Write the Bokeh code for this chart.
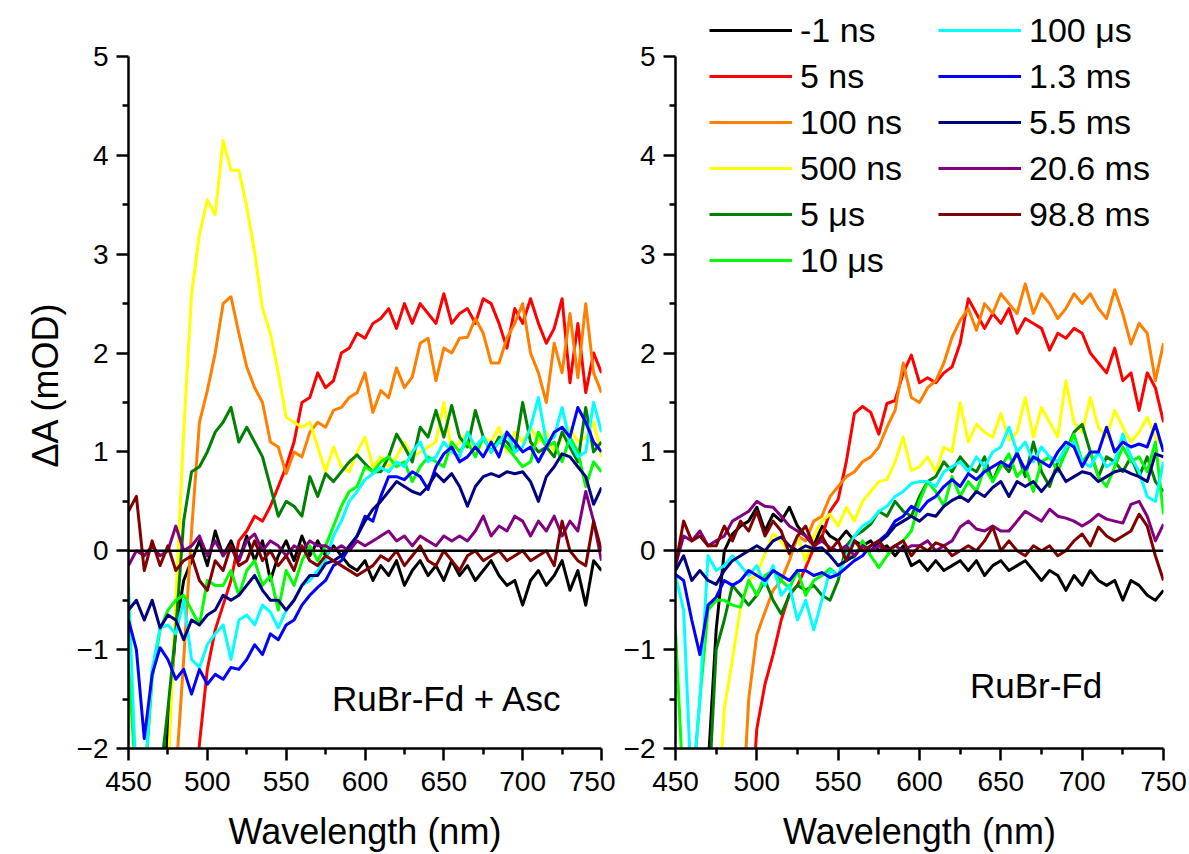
from bokeh.plotting import figure
from bokeh.models import Label, Legend, LegendItem, Span, FixedTicker, Title
from bokeh.layouts import row
from bokeh.embed import file_html
from bokeh.resources import INLINE

FONT = "Liberation Sans"

# ---------------- data ----------------
wavelength = list(range(450, 751, 5))

series_labels = ["-1 ns", "5 ns", "100 ns", "500 ns", "5 \u03bcs", "10 \u03bcs",
                 "100 \u03bcs", "1.3 ms", "5.5 ms", "20.6 ms", "98.8 ms"]
series_colors = ["#000000", "#FF0000", "#FF8000", "#FFFF00", "#008000", "#00FF00",
                 "#00FFFF", "#0000FF", "#000080", "#800080", "#800000"]

# Left panel: RuBr-Fd + Asc
asc_m1ns = [-3, -3, -3, -3, -3, -1.8, -0.8, -0.3, -0.1, 0.1, -0.15, 0.2, -0.05, 0.1, -0.1, 0.15, -0.1, 0.1, -0.3, -0.05,
            0.1, -0.1, 0.15, -0.05, 0.1, -0.05, 0.05, -0.05, -0.15, -0.2, -0.1, -0.3, -0.15, -0.25, -0.1, -0.35, -0.2, -0.1, -0.25, -0.15,
            -0.3, -0.1, -0.25, -0.15, -0.3, -0.2, -0.1, -0.25, -0.35, -0.3, -0.55, -0.3, -0.2, -0.35, -0.25, -0.1, -0.4, -0.2, -0.55, -0.1, -0.2]
asc_5ns = [-3, -3, -3, -3, -3, -3, -3, -3, -3, -1.95, -1.2, -0.8, -0.55, -0.3, 0.1, 0.2, 0.35, 0.3, 0.45, 0.65,
           0.85, 1.1, 1.5, 1.55, 1.8, 1.65, 1.72, 2.0, 2.05, 2.2, 2.15, 2.3, 2.35, 2.45, 2.25, 2.5, 2.3, 2.5, 2.4, 2.3,
           2.6, 2.3, 2.4, 2.45, 2.3, 2.55, 2.5, 2.3, 2.05, 2.45, 2.3, 2.55, 2.3, 2.1, 2.25, 2.55, 1.7, 2.3, 1.6, 2.0, 1.8]
asc_100ns = [-3, -3, -3, -3, -3, -3, -2.3, -1.1, 0.2, 1.3, 1.62, 2.0, 2.5, 2.57, 2.2, 1.86, 1.65, 1.5, 1.1, 1.05,
             0.78, 1.0, 0.95, 1.2, 1.3, 1.25, 1.42, 1.45, 1.55, 1.6, 1.8, 1.4, 1.62, 1.55, 1.85, 1.65, 1.76, 2.1, 2.15, 1.72,
             2.05, 2.0, 2.15, 2.16, 2.35, 2.2, 1.9, 1.9, 2.15, 2.3, 2.5, 2.0, 1.8, 1.5, 2.1, 1.8, 2.4, 1.75, 2.5, 1.8, 1.6]
asc_500ns = [-3, -3, -3, -3, -3, -2.3, -0.5, 1.2, 2.6, 3.2, 3.55, 3.4, 4.15, 3.85, 3.85, 3.48, 3.02, 2.45, 2.2, 1.8,
             1.35, 1.3, 1.25, 1.3, 1.05, 0.8, 1.05, 0.85, 0.8, 1.0, 1.15, 0.85, 0.95, 0.85, 0.95, 1.1, 0.95, 1.0, 1.05, 1.1,
             1.5, 1.0, 1.1, 1.2, 1.0, 1.15, 1.1, 1.25, 1.0, 1.2, 1.1, 1.25, 1.1, 1.2, 1.0, 1.15, 1.25, 1.1, 1.15, 1.3, 0.95]
asc_5us = [-3, -3, -3, -3, -2.3, -1.6, -0.8, 0.3, 0.8, 0.85, 1.0, 1.2, 1.3, 1.45, 1.1, 1.25, 1.1, 0.95, 0.65, 0.35,
           0.5, 0.45, 0.35, 0.75, 0.55, 0.78, 0.7, 0.8, 0.9, 0.97, 0.88, 0.8, 0.8, 0.95, 1.18, 1.05, 0.9, 1.25, 1.15, 1.42,
           1.15, 1.47, 1.15, 1.05, 1.42, 1.15, 1.0, 1.15, 1.1, 1.0, 1.5, 1.1, 1.0, 1.05, 0.95, 1.2, 1.05, 0.9, 1.45, 1.0, 1.1]
asc_10us = [-1.15, -2.4, -2.4, -1.3, -0.8, -0.6, -0.5, -0.45, -0.6, -0.75, -0.3, -0.35, -0.35, -0.2, -0.45, -0.2, -0.1, -0.35, -0.25, -0.6,
            -0.2, -0.35, -0.1, 0.05, -0.1, 0.05, 0.25, 0.45, 0.6, 0.65, 0.85, 0.8, 0.9, 0.95, 0.85, 0.9, 0.7, 0.85, 0.95, 0.9,
            0.85, 1.1, 1.0, 1.1, 0.95, 1.15, 1.0, 1.1, 1.05, 0.95, 0.85, 0.9, 1.2, 1.05, 1.1, 0.9, 1.15, 1.0, 0.65, 0.9, 0.8]
asc_100us = [-0.35, -2.4, -2.4, -1.2, -0.78, -0.75, -0.84, -0.5, -1.1, -1.18, -0.95, -0.84, -0.75, -1.1, -0.7, -0.65, -0.75, -0.55, -0.62, -0.78,
             -0.6, -0.5, -0.35, -0.3, -0.2, -0.1, 0.15, 0.3, 0.5, 0.6, 0.72, 0.78, 0.84, 0.8, 0.9, 0.85, 1.0, 1.1, 0.9, 0.95,
             1.1, 1.0, 0.95, 1.2, 1.05, 1.15, 1.0, 1.1, 1.2, 1.0, 1.05, 1.25, 1.55, 1.1, 1.15, 1.45, 1.1, 0.95, 1.0, 1.5, 1.2]
asc_1p3ms = [-0.7, -1.0, -1.9, -1.25, -0.98, -1.1, -1.3, -1.2, -1.45, -1.2, -1.35, -1.25, -1.3, -1.18, -1.2, -1.1, -0.95, -1.05, -0.84, -0.9,
             -0.75, -0.7, -0.55, -0.45, -0.37, -0.3, -0.15, -0.1, 0.03, 0.15, 0.35, 0.3, 0.55, 0.75, 0.75, 0.72, 0.8, 0.75, 0.62, 0.85,
             0.98, 1.05, 0.9, 0.95, 1.05, 0.95, 1.1, 0.95, 1.2, 1.1, 1.0, 1.05, 0.9, 1.05, 1.2, 1.25, 1.15, 1.45, 1.3, 1.1, 1.0]
asc_5p5ms = [-0.6, -0.5, -0.7, -0.5, -0.78, -0.65, -0.7, -0.9, -0.7, -0.75, -0.65, -0.6, -0.45, -0.5, -0.45, -0.35, -0.25, -0.4, -0.5, -0.5,
             -0.6, -0.5, -0.35, -0.25, -0.25, -0.13, -0.1, -0.05, 0.05, 0.15, 0.3, 0.42, 0.5, 0.6, 0.7, 0.65, 0.6, 0.57, 0.65, 0.78,
             0.7, 0.78, 0.65, 0.45, 0.65, 0.75, 0.78, 0.75, 0.8, 0.78, 0.8, 0.7, 0.5, 0.75, 0.85, 0.98, 0.95, 0.85, 0.75, 0.47, 0.64]
asc_20p6ms = [-0.15, 0.0, -0.05, 0.05, -0.05, 0.0, 0.25, 0.0, 0.05, 0.15, -0.05, 0.1, -0.05, 0.05, -0.1, 0.1, 0.17, 0.0, 0.1, 0.05,
              -0.05, 0.05, 0.0, 0.1, 0.05, 0.05, 0.0, 0.05, 0.0, 0.1, 0.05, 0.1, 0.15, 0.2, 0.1, 0.15, 0.05, 0.15, 0.1, 0.05,
              0.15, 0.1, 0.15, 0.1, 0.2, 0.35, 0.15, 0.25, 0.2, 0.35, 0.3, 0.15, 0.3, 0.2, 0.35, 0.15, 0.3, 0.2, 0.6, 0.3, -0.1]
asc_98p8ms = [0.4, 0.55, -0.2, 0.1, -0.15, 0.05, -0.2, -0.1, -0.05, -0.3, -0.4, -0.1, -0.2, 0.05, -0.15, -0.1, 0.1, -0.1, 0.0, -0.15,
              -0.05, -0.2, 0.05, -0.1, -0.15, -0.05, -0.1, -0.15, -0.2, -0.25, -0.2, -0.15, -0.05, -0.1, 0.0, -0.15, -0.05, 0.05, -0.1, -0.15,
              0.0, -0.1, -0.2, -0.05, 0.0, -0.1, -0.05, 0.0, -0.1, -0.05, 0.0, -0.1, -0.05, 0.0, -0.15, 0.3, 0.0, -0.1, -0.15, 0.3, 0.0]

# Right panel: RuBr-Fd
fd_m1ns = [-3, -3, -3, -3, -2.2, -0.8, 0.0, 0.17, 0.25, 0.3, 0.44, 0.2, 0.37, 0.3, 0.44, 0.25, 0.15, 0.05, 0.25, 0.15,
           0.1, 0.2, 0.1, 0.05, 0.1, 0.0, 0.05, -0.05, 0.05, -0.15, -0.1, -0.2, -0.1, -0.2, -0.15, -0.1, -0.2, -0.1, -0.25, -0.15,
           -0.1, -0.2, -0.15, -0.1, -0.2, -0.3, -0.2, -0.25, -0.4, -0.25, -0.35, -0.2, -0.3, -0.35, -0.3, -0.5, -0.3, -0.35, -0.45, -0.5, -0.4]
fd_5ns = [-3, -3, -3, -3, -3, -3, -3, -3, -3, -3, -1.8, -1.35, -1.05, -0.7, -0.44, -0.35, -0.17, 0.03, 0.14, 0.4,
          0.52, 0.9, 1.39, 1.46, 1.4, 1.18, 1.49, 1.52, 1.8, 1.98, 1.7, 1.75, 1.7, 1.8, 1.86, 2.1, 2.55, 2.4, 2.25, 2.4,
          2.3, 2.45, 2.2, 2.35, 2.3, 2.25, 2.03, 2.2, 2.15, 2.25, 2.2, 2.0, 1.9, 1.8, 2.05, 1.72, 1.8, 1.42, 1.8, 1.65, 1.3]
fd_100ns = [-3, -3, -3, -3, -3, -3, -3, -3, -3, -1.5, -0.85, -0.62, -0.4, -0.3, -0.1, 0.15, 0.1, 0.3, 0.35, 0.55,
            0.65, 0.75, 0.8, 0.9, 0.95, 1.05, 1.25, 1.42, 1.9, 1.55, 1.5, 1.65, 1.72, 1.9, 2.16, 2.33, 2.45, 2.23, 2.5, 2.4,
            2.6, 2.5, 2.4, 2.7, 2.4, 2.6, 2.5, 2.35, 2.45, 2.6, 2.5, 2.6, 2.45, 2.35, 2.64, 2.4, 2.09, 2.3, 2.2, 1.72, 2.1]
fd_500ns = [-3, -3, -3, -3, -3, -3, -1.6, -1.1, -0.57, -0.3, -0.24, -0.03, 0.17, 0.1, -0.03, 0.15, -0.1, 0.15, 0.3, 0.37,
            0.25, 0.44, 0.3, 0.5, 0.6, 0.7, 0.72, 0.9, 1.15, 0.81, 0.85, 0.95, 0.8, 1.05, 1.0, 1.5, 1.1, 1.28, 1.2, 1.15,
            1.39, 1.12, 1.2, 1.55, 1.15, 1.45, 1.3, 1.15, 1.72, 1.3, 1.2, 1.55, 1.25, 1.15, 1.42, 1.25, 1.1, 1.2, 1.35, 1.15, 1.05]
fd_5us = [-3, -3, -3, -3, -2.6, -1.0, -0.7, -0.35, -0.45, -0.55, -0.45, -0.3, -0.5, -0.64, -0.45, -0.35, -0.4, -0.35, -0.45, -0.5,
          -0.3, 0.05, 0.15, 0.2, 0.27, 0.4, 0.35, 0.5, 0.4, 0.35, 0.55, 0.7, 0.75, 0.9, 0.8, 0.95, 0.85, 0.8, 0.95, 0.7,
          0.9, 0.8, 1.0, 0.75, 1.1, 0.8, 0.65, 0.9, 1.0, 1.2, 1.28, 1.0, 0.75, 0.95, 0.9, 0.8, 0.95, 0.75, 0.95, 0.7, 0.6]
fd_10us = [-0.8, -2.5, -2.5, -1.5, -0.6, -0.5, -0.5, -0.55, -0.57, -0.3, -0.45, -0.25, -0.2, -0.3, -0.38, -0.2, -0.45, -0.3, -0.25, -0.18,
           -0.25, -0.05, -0.07, 0.1, -0.05, -0.17, -0.05, 0.05, 0.1, 0.2, 0.5, 0.7, 0.6, 0.45, 0.75, 0.55, 0.7, 0.6, 0.84, 0.7,
           0.85, 0.98, 0.75, 0.85, 0.6, 0.9, 0.95, 0.8, 1.0, 1.18, 0.9, 1.0, 0.75, 0.65, 0.85, 1.05, 0.9, 0.95, 0.8, 1.1, 0.37]
fd_100us = [-0.25, -0.6, -2.5, -1.5, -0.05, -0.2, -0.15, -0.05, -0.15, -0.25, -0.15, -0.35, -0.15, -0.45, -0.35, -0.7, -0.5, -0.8, -0.5, -0.2,
            -0.25, -0.05, 0.15, 0.25, 0.3, 0.4, 0.45, 0.55, 0.6, 0.68, 0.7, 0.7, 0.65, 0.8, 0.85, 0.9, 0.8, 0.95, 0.85, 1.0,
            1.05, 1.25, 1.0, 1.1, 0.9, 1.05, 0.95, 0.9, 1.05, 1.1, 0.9, 0.85, 1.0, 0.85, 0.9, 1.18, 0.95, 0.8, 0.55, 0.5, 0.9]
fd_1p3ms = [-0.24, -0.3, -0.7, -1.05, -0.55, -0.47, -0.3, -0.35, -0.3, -0.2, -0.25, -0.3, -0.2, -0.25, -0.3, -0.2, -0.2, -0.25, -0.22, -0.27,
            -0.24, -0.17, -0.1, -0.05, 0.05, 0.1, 0.17, 0.3, 0.35, 0.45, 0.4, 0.5, 0.55, 0.65, 0.72, 0.65, 0.78, 0.72, 0.8, 0.85,
            0.9, 0.85, 0.98, 0.82, 0.95, 0.9, 0.85, 1.0, 1.1, 1.05, 0.85, 1.0, 1.0, 1.25, 1.0, 1.1, 1.05, 1.08, 1.05, 1.28, 1.0]
fd_5p5ms = [-0.2, -0.05, -0.3, -0.2, -0.3, -0.34, -0.2, -0.1, -0.05, 0.0, 0.05, 0.0, 0.1, 0.14, 0.05, 0.0, 0.05, 0.02, 0.03, -0.05,
            -0.15, -0.1, -0.05, 0.05, 0.0, 0.08, 0.15, 0.25, 0.3, 0.35, 0.3, 0.37, 0.35, 0.45, 0.51, 0.55, 0.5, 0.6, 0.55, 0.64,
            0.7, 0.55, 0.7, 0.65, 0.7, 0.6, 0.7, 0.84, 0.7, 0.75, 0.8, 0.78, 0.7, 0.75, 0.8, 0.82, 0.78, 0.75, 0.7, 0.98, 0.95]
fd_20p6ms = [-0.15, 0.15, 0.1, 0.2, 0.05, 0.1, 0.15, 0.3, 0.35, 0.4, 0.5, 0.45, 0.44, 0.35, 0.25, 0.2, 0.15, 0.05, 0.1, 0.03,
             0.0, 0.05, -0.05, 0.05, 0.0, 0.05, 0.0, 0.05, 0.0, 0.05, 0.05, 0.1, 0.0, 0.05, 0.1, 0.24, 0.3, 0.22, 0.2, 0.25,
             0.2, 0.2, 0.3, 0.4, 0.35, 0.3, 0.42, 0.35, 0.33, 0.3, 0.25, 0.3, 0.37, 0.32, 0.3, 0.28, 0.47, 0.5, 0.35, 0.1, 0.27]
fd_98p8ms = [-0.15, 0.3, 0.1, 0.15, 0.05, 0.05, 0.25, 0.1, 0.3, 0.2, 0.4, 0.15, 0.3, 0.2, -0.03, 0.15, 0.25, 0.05, 0.15, 0.0,
             0.1, -0.1, 0.1, 0.0, 0.05, 0.1, 0.0, 0.05, 0.1, -0.05, 0.05, 0.0, 0.08, 0.05, -0.05, 0.0, 0.05, 0.0, 0.1, 0.24,
             0.0, 0.1, 0.0, -0.05, 0.05, 0.0, 0.05, -0.05, 0.0, 0.1, 0.17, 0.05, 0.24, 0.15, 0.1, 0.15, 0.2, 0.37, 0.25, -0.05, -0.3]

asc_series = [asc_m1ns, asc_5ns, asc_100ns, asc_500ns, asc_5us, asc_10us,
              asc_100us, asc_1p3ms, asc_5p5ms, asc_20p6ms, asc_98p8ms]
fd_series = [fd_m1ns, fd_5ns, fd_100ns, fd_500ns, fd_5us, fd_10us,
             fd_100us, fd_1p3ms, fd_5p5ms, fd_20p6ms, fd_98p8ms]

for s in asc_series + fd_series:
    assert len(s) == len(wavelength), len(s)

x_ticks = [450, 500, 550, 600, 650, 700, 750]
x_minor = [475, 525, 575, 625, 675, 725]
y_ticks = [-2, -1, 0, 1, 2, 3, 4, 5]
y_minor = [-1.5, -0.5, 0.5, 1.5, 2.5, 3.5, 4.5]

# ---------------- layout ----------------
H = 854
BOTTOM = 106
FRAME_H = H - BOTTOM               # frame reaches the top of the page
PX_PER_UNIT = (FRAME_H - 56) / 7.0  # value 5 sits 56 px below the top
Y_TOP = 5 + 56 / PX_PER_UNIT


def make_fig(width, bl, br):
    p = figure(width=width, height=H, x_range=(450, 750), y_range=(-2, Y_TOP),
               output_backend="svg", toolbar_location=None,
               min_border_left=bl, min_border_right=br,
               min_border_top=0, min_border_bottom=BOTTOM)
    p.xgrid.visible = False
    p.ygrid.visible = False
    p.outline_line_color = None
    p.xaxis.ticker = FixedTicker(ticks=x_ticks, minor_ticks=x_minor)
    p.yaxis.ticker = FixedTicker(ticks=y_ticks, minor_ticks=y_minor)
    p.yaxis.bounds = (-2, 5)
    for ax in (p.xaxis, p.yaxis):
        ax.axis_line_width = 2.5
        ax.axis_line_color = "black"
        ax.major_tick_line_width = 2.5
        ax.minor_tick_line_width = 2.5
        ax.major_tick_line_color = "black"
        ax.minor_tick_line_color = "black"
        ax.major_tick_out = 12
        ax.major_tick_in = 0
        ax.minor_tick_out = 6
        ax.minor_tick_in = 0
        ax.major_label_text_font = FONT
        ax.major_label_text_font_size = "28px"
        ax.major_label_text_color = "black"
        ax.axis_label_text_font = FONT
        ax.axis_label_text_font_size = "36px"
        ax.axis_label_text_font_style = "normal"
        ax.axis_label_text_color = "black"
    p.xaxis.major_label_standoff = 11
    p.yaxis.major_label_standoff = 8
    p.xaxis.axis_label = "Wavelength (nm)"
    p.xaxis.axis_label_standoff = 17
    p.add_layout(Span(location=0, dimension="width", line_color="black", line_width=2.5))
    return p


p1 = make_fig(615, 128, 14)
p2 = make_fig(574, 60, 26)

p1.add_layout(Title(text="\u0394A (mOD)", align="left", vertical_align="top", offset=281, standoff=12,
                    text_font=FONT, text_font_size="36px", text_font_style="normal",
                    text_color="black"), "left")

for ys, c in zip(asc_series, series_colors):
    p1.line(wavelength, ys, line_color=c, line_width=3, line_join="round")

renderers = []
for ys, c in zip(fd_series, series_colors):
    renderers.append(p2.line(wavelength, ys, line_color=c, line_width=3, line_join="round"))

p1.add_layout(Label(x=579, y=-1.49, text="RuBr-Fd + Asc", text_font=FONT,
                    text_font_size="35px", text_color="black", text_baseline="alphabetic"))
p2.add_layout(Label(x=631, y=-1.36, text="RuBr-Fd", text_font=FONT,
                    text_font_size="35px", text_color="black", text_baseline="alphabetic"))

items = [LegendItem(label=lab, renderers=[r]) for lab, r in zip(series_labels, renderers)]
legend = Legend(items=items, location=(34, 468), orientation="vertical", nrows=6,
                glyph_width=83, glyph_height=40, label_height=40, label_width=132,
                label_standoff=8, spacing=6, padding=0, margin=0,
                border_line_color=None, background_fill_alpha=0,
                label_text_font=FONT, label_text_font_size="34px",
                label_text_color="black")
p2.add_layout(legend)

layout = row(p1, p2)
open("out.html", "w").write(file_html(layout, INLINE))
